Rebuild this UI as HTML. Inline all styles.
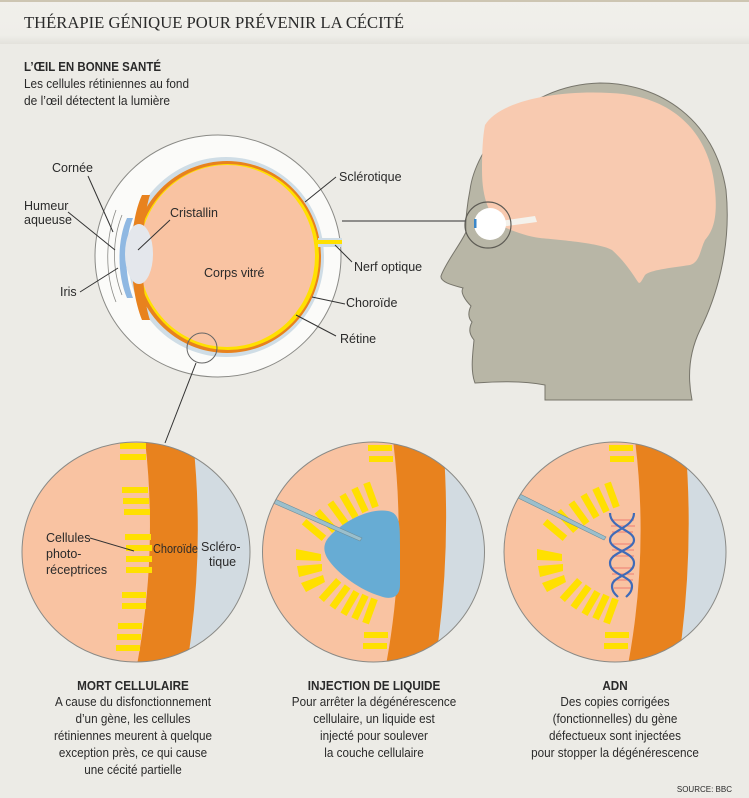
<!DOCTYPE html>
<html><head><meta charset="utf-8"><style>
html,body{margin:0;padding:0;background:#ecebe6;}
svg{display:block;}
.n{font-family:"Liberation Sans Narrow","Liberation Sans",sans-serif;fill:#2a2a2a;}
</style></head><body>
<svg width="749" height="798" viewBox="0 0 749 798" xmlns="http://www.w3.org/2000/svg">
<defs>
<linearGradient id="hd" x1="0" y1="0" x2="0" y2="1">
<stop offset="0" stop-color="#f1f0eb"/><stop offset="0.8" stop-color="#efeee9"/><stop offset="1" stop-color="#e3e2dc"/></linearGradient>
<clipPath id="c1"><ellipse cx="136" cy="552" rx="114" ry="110"/></clipPath>
<clipPath id="c2"><ellipse cx="373.5" cy="552" rx="111" ry="110"/></clipPath>
<clipPath id="c3"><ellipse cx="615" cy="552" rx="111" ry="110"/></clipPath>
<g id="fan" fill="#ffe000">
<rect x="-3.5" y="-13" width="7" height="26" transform="translate(314,530) rotate(-50)"/>
<rect x="-3.5" y="-13" width="7" height="26" transform="translate(326,521) rotate(-42)"/>
<rect x="-3.5" y="-13" width="7" height="26" transform="translate(338,513) rotate(-36)"/>
<rect x="-3.5" y="-13" width="7" height="26" transform="translate(349,506) rotate(-30)"/>
<rect x="-3.5" y="-13" width="7" height="26" transform="translate(360,500) rotate(-25)"/>
<rect x="-3.5" y="-13" width="7" height="26" transform="translate(371,495) rotate(-20)"/>
<path d="M296,549 L321,554 L321,561 L296,560 Z"/>
<path d="M297,566 L322,564 L322,571 L299,577 Z"/>
<path d="M301,583 L323,575 L325,582 L306,592 Z"/>
<rect x="-3.5" y="-13" width="7" height="26" transform="translate(330,590) rotate(42)"/>
<rect x="-3.5" y="-13" width="7" height="26" transform="translate(340,597) rotate(36)"/>
<rect x="-3.5" y="-13" width="7" height="26" transform="translate(350,603) rotate(30)"/>
<rect x="-3.5" y="-13" width="7" height="26" transform="translate(360,607) rotate(25)"/>
<rect x="-3.5" y="-13" width="7" height="26" transform="translate(370,611) rotate(20)"/>
<rect x="368" y="445" width="24" height="6"/><rect x="369" y="456" width="24" height="6"/>
<rect x="364" y="632" width="24" height="6"/><rect x="363" y="643" width="24" height="6"/>
</g>
</defs>

<rect x="0" y="0" width="749" height="44" fill="url(#hd)"/>
<rect x="0" y="0" width="749" height="2" fill="#cdc6b2"/>
<text x="24" y="28" font-family="Liberation Serif,serif" font-size="17" fill="#2a2a2a" textLength="380" lengthAdjust="spacingAndGlyphs">THÉRAPIE GÉNIQUE POUR PRÉVENIR LA CÉCITÉ</text>

<text class="n" x="24" y="71" font-size="13" font-weight="bold" textLength="137" lengthAdjust="spacingAndGlyphs">L’ŒIL EN BONNE SANTÉ</text>
<text class="n" x="24" y="88" font-size="12.5" textLength="165" lengthAdjust="spacingAndGlyphs">Les cellules rétiniennes au fond</text>
<text class="n" x="24" y="105" font-size="12.5" textLength="146" lengthAdjust="spacingAndGlyphs">de l’œil détectent la lumière</text>

<path d="M600,83 C660,83 715,120 726,190 C732,250 715,300 700,330 C688,355 688,380 692,400 L545,400 L545,385 C520,380 490,382 475,383 C470,370 473,352 474,340 C470,335 468,330 472,322 C468,318 468,312 471,306 C465,300 460,292 463,288 C452,285 440,282 441,276 C446,262 460,245 466,232 C465,220 468,200 470,190 C475,150 520,85 600,83 Z" fill="#b8b6a6" stroke="#77756b" stroke-width="1"/>
<path d="M485,125 C500,100 560,90 610,93 C670,95 710,130 715,190 C718,220 712,232 705,240 C700,250 700,262 690,265 C670,268 650,270 645,275 C642,280 640,285 638,282 C630,270 625,262 612,250 C600,243 560,240 540,238 C525,236 510,230 500,225 C490,215 482,200 482,170 C482,150 483,135 485,125 Z" fill="#f8cab0"/>
<path d="M500,221 L535,216 L537,222 L500,227 Z" fill="#f4f2ec"/>
<circle cx="490" cy="224" r="16" fill="#ffffff"/>
<rect x="474" y="219" width="2.5" height="9" fill="#3a86c8"/>
<circle cx="488" cy="225" r="23" fill="none" stroke="#5e5c55" stroke-width="1.2"/>
<line x1="342" y1="221" x2="466" y2="221" stroke="#555" stroke-width="1.2"/>

<ellipse cx="218" cy="256" rx="123" ry="121" fill="#fbfbf9" stroke="#8a8a86" stroke-width="1"/>
<path d="M122,215 C112,240 112,270 122,295" fill="none" stroke="#8a8a86" stroke-width="0.8"/>
<path d="M116,210 C105,240 105,275 116,302" fill="none" stroke="#8a8a86" stroke-width="0.8"/>
<ellipse cx="226" cy="257" rx="98" ry="100" fill="#cfdde6"/>
<ellipse cx="227" cy="257" rx="94" ry="96" fill="#e8821e"/>
<ellipse cx="228" cy="257" rx="91" ry="93" fill="#ffe000"/>
<ellipse cx="227" cy="256" rx="88" ry="91" fill="#f9c3a2"/>
<path d="M142,195 C128,225 128,285 142,320 L150,320 C140,290 140,225 150,195 Z" fill="#e8821e"/>
<path d="M127,218 C117,240 117,275 127,298 L133,298 C124,275 124,240 133,218 Z" fill="#8fb8e2"/>
<ellipse cx="139" cy="254" rx="14" ry="30" fill="#e4e7ec"/>
<rect x="318" y="238" width="24" height="9" fill="#cfdde6"/>
<rect x="314" y="240" width="28" height="4" fill="#ffe000"/>
<circle cx="202" cy="348" r="15" fill="none" stroke="#666" stroke-width="1"/>
<line x1="196" y1="363" x2="165" y2="443" stroke="#333" stroke-width="1"/>

<g class="n" font-size="12.5">
<text x="52" y="172">Cornée</text>
<text x="24" y="210">Humeur</text>
<text x="24" y="224">aqueuse</text>
<text x="60" y="296">Iris</text>
<text x="170" y="217">Cristallin</text>
<text x="204" y="277">Corps vitré</text>
<text x="339" y="181">Sclérotique</text>
<text x="354" y="271">Nerf optique</text>
<text x="346" y="307">Choroïde</text>
<text x="340" y="343">Rétine</text>
</g>
<g stroke="#333" stroke-width="1" fill="none">
<line x1="88" y1="176" x2="113" y2="232"/>
<line x1="68" y1="212" x2="115" y2="250"/>
<line x1="80" y1="292" x2="118" y2="268"/>
<line x1="170" y1="220" x2="138" y2="250"/>
<line x1="336" y1="177" x2="305" y2="202"/>
<line x1="352" y1="262" x2="335" y2="245"/>
<line x1="345" y1="304" x2="312" y2="297"/>
<line x1="336" y1="336" x2="296" y2="315"/>
</g>

<g clip-path="url(#c1)">
<rect x="0" y="430" width="260" height="240" fill="#f9c3a2"/>
<rect x="170" y="430" width="100" height="240" fill="#d2dbe1"/>
<path d="M145,440 Q158,552 137,665 L187,665 Q205,552 193,440 Z" fill="#e8821e"/>
<g fill="#ffe000">
<rect x="120" y="443" width="26" height="6"/><rect x="120" y="454" width="26" height="6"/>
<rect x="122" y="487" width="26" height="6"/><rect x="123" y="498" width="26" height="6"/><rect x="124" y="509" width="26" height="6"/>
<rect x="125" y="534" width="26" height="6"/><rect x="126" y="545" width="26" height="6"/><rect x="126" y="556" width="26" height="6"/><rect x="126" y="567" width="26" height="6"/>
<rect x="122" y="592" width="24" height="6"/><rect x="122" y="603" width="24" height="6"/>
<rect x="118" y="623" width="24" height="6"/><rect x="117" y="634" width="24" height="6"/><rect x="116" y="645" width="24" height="6"/>
</g>
</g>
<ellipse cx="136" cy="552" rx="114" ry="110" fill="none" stroke="#8a8a86" stroke-width="1"/>
<g class="n" font-size="12.5">
<text x="46" y="542">Cellules</text>
<text x="46" y="558">photo-</text>
<text x="46" y="574">réceptrices</text>
<text x="153" y="553" textLength="45" lengthAdjust="spacingAndGlyphs">Choroïde</text>
<text x="201" y="551">Scléro-</text>
<text x="209" y="566">tique</text>
</g>
<line x1="90" y1="538" x2="134" y2="551" stroke="#333" stroke-width="1"/>

<g clip-path="url(#c2)">
<rect x="250" y="430" width="250" height="240" fill="#f9c3a2"/>
<rect x="420" y="430" width="80" height="240" fill="#d2dbe1"/>
<path d="M393,440 Q407,552 386,665 L435,665 Q452,552 443,440 Z" fill="#e8821e"/>
<use href="#fan"/>
<path d="M330,536 C345,520 370,508 388,511 C400,513 400,525 400,545 L400,585 C400,598 390,600 380,596 C360,590 340,575 330,562 C322,552 323,543 330,536 Z" fill="#67acd4"/>
<path d="M275,499 L362,538 L360,541 L273,503 Z" fill="#9bbfcc" stroke="#6d8f9c" stroke-width="0.6"/>
</g>
<ellipse cx="373.5" cy="552" rx="111" ry="110" fill="none" stroke="#8a8a86" stroke-width="1"/>

<g clip-path="url(#c3)">
<rect x="495" y="430" width="240" height="240" fill="#f9c3a2"/>
<rect x="660" y="430" width="80" height="240" fill="#d2dbe1"/>
<path d="M635,440 Q649,552 628,665 L678,665 Q695,552 685,440 Z" fill="#e8821e"/>
<use href="#fan" transform="translate(241,0)"/>
<path d="M518,493 L606,537 L604,540 L516,497 Z" fill="#9bbfcc" stroke="#6d8f9c" stroke-width="0.6"/>
<g stroke="#f08a7c" stroke-width="1.2">
<line x1="612" y1="520" x2="634" y2="520"/><line x1="611" y1="526" x2="635" y2="526"/><line x1="612" y1="532" x2="633" y2="532"/>
<line x1="613" y1="544" x2="632" y2="544"/><line x1="612" y1="550" x2="634" y2="550"/><line x1="612" y1="556" x2="634" y2="556"/>
<line x1="612" y1="568" x2="634" y2="568"/><line x1="612" y1="574" x2="634" y2="574"/><line x1="613" y1="580" x2="633" y2="580"/>
<line x1="614" y1="588" x2="632" y2="588"/>
</g>
<path d="M634,513 C634,528 610,530 610,540 C610,550 634,552 634,563 C634,575 612,576 612,586 C612,592 616,595 618,597" fill="none" stroke="#3f6bb8" stroke-width="2.2"/>
<path d="M610,513 C610,528 634,530 634,540 C634,550 610,552 610,563 C610,575 632,576 632,586 C632,592 628,595 626,597" fill="none" stroke="#3f6bb8" stroke-width="2.2"/>
</g>
<ellipse cx="615" cy="552" rx="111" ry="110" fill="none" stroke="#8a8a86" stroke-width="1"/>

<g class="n" font-size="13" text-anchor="middle">
<g transform="translate(133,0) scale(0.9,1) translate(-133,0)">
<text x="133" y="690" font-weight="bold">MORT CELLULAIRE</text>
<text x="133" y="706">A cause du disfonctionnement</text>
<text x="133" y="723">d’un gène, les cellules</text>
<text x="133" y="740">rétiniennes meurent à quelque</text>
<text x="133" y="757">exception près, ce qui cause</text>
<text x="133" y="774">une cécité partielle</text>
</g>
<g transform="translate(374,0) scale(0.9,1) translate(-374,0)">
<text x="374" y="690" font-weight="bold">INJECTION DE LIQUIDE</text>
<text x="374" y="706">Pour arrêter la dégénérescence</text>
<text x="374" y="723">cellulaire, un liquide est</text>
<text x="374" y="740">injecté pour soulever</text>
<text x="374" y="757">la couche cellulaire</text>
</g>
<g transform="translate(615,0) scale(0.9,1) translate(-615,0)">
<text x="615" y="690" font-weight="bold">ADN</text>
<text x="615" y="706">Des copies corrigées</text>
<text x="615" y="723">(fonctionnelles) du gène</text>
<text x="615" y="740">défectueux sont injectées</text>
<text x="615" y="757">pour stopper la dégénérescence</text>
</g>
</g>
<text class="n" x="732" y="792" font-size="8" text-anchor="end">SOURCE: BBC</text>
</svg>
</body></html>
